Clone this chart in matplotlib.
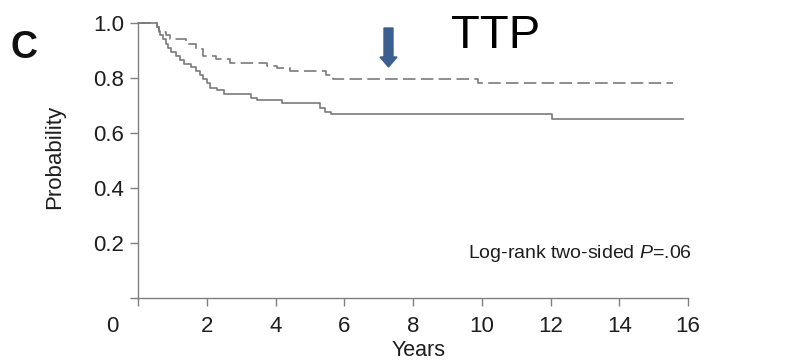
import matplotlib
matplotlib.use("Agg")
import matplotlib.pyplot as plt
from matplotlib.patches import FancyArrow
from matplotlib.transforms import ScaledTranslation

plt.rcParams['font.family'] = ['Liberation Sans', 'DejaVu Sans']
plt.rcParams['mathtext.fontset'] = 'custom'
plt.rcParams['mathtext.it'] = 'Liberation Sans:italic'
plt.rcParams['mathtext.rm'] = 'Liberation Sans'

# Kaplan-Meier steps (years, probability), solid arm
solid_t = [0, 0.55, 0.60, 0.65, 0.72, 0.80, 0.88, 0.97, 1.10, 1.22, 1.35, 1.55,
           1.70, 1.80, 1.90, 2.00, 2.10, 2.30, 2.50, 3.30, 3.45, 4.20, 5.30,
           5.45, 5.60, 12.05, 15.85]
solid_p = [1.0, 0.985, 0.97, 0.955, 0.94, 0.925, 0.91, 0.895, 0.88, 0.865, 0.85,
           0.84, 0.825, 0.81, 0.795, 0.78, 0.765, 0.755, 0.742, 0.728, 0.72,
           0.708, 0.69, 0.675, 0.668, 0.650, 0.650]

# dashed arm
dashed_t = [0, 0.55, 0.62, 0.80, 0.93, 1.40, 1.70, 1.90, 2.28, 2.67, 3.74, 4.03,
            4.41, 5.48, 5.68, 9.90, 15.55]
dashed_p = [1.0, 0.985, 0.968, 0.955, 0.94, 0.925, 0.905, 0.88, 0.868, 0.855,
            0.845, 0.835, 0.825, 0.81, 0.796, 0.782, 0.782]

x_ticks = [0, 2, 4, 6, 8, 10, 12, 14, 16]
y_ticks = [0, 0.2, 0.4, 0.6, 0.8, 1.0]
y_ticklabels = ['', '0.2', '0.4', '0.6', '0.8', '1.0']

line_color = '#7a7a7a'
axis_color = '#808080'
text_color = '#1e1e1e'

fig = plt.figure(figsize=(7.9, 3.61), dpi=100)
ax = fig.add_axes([0.1747, 0.1745, 0.6962, 0.7618])

ax.step(solid_t, solid_p, where='post', color=line_color, lw=1.2, clip_on=False)
ax.step(dashed_t, dashed_p, where='post', color=line_color, lw=1.2,
        dashes=(7.5, 3.2), clip_on=False)

ax.set_xlim(0, 16)
ax.set_ylim(0, 1.0)
ax.set_xticks(x_ticks)
ax.set_yticks(y_ticks)
ax.set_yticklabels(y_ticklabels)

for side in ('top', 'right'):
    ax.spines[side].set_visible(False)
for side in ('left', 'bottom'):
    ax.spines[side].set_color(axis_color)
    ax.spines[side].set_linewidth(1.0)

ax.tick_params(axis='both', direction='out', length=6, width=1.0,
               color=axis_color, labelsize=16, labelcolor=text_color)
ax.tick_params(axis='x', pad=7)
ax.tick_params(axis='y', pad=4)

# the "0" label sits left of its tick
zero_lbl = ax.get_xticklabels()[0]
zero_lbl.set_transform(zero_lbl.get_transform()
                       + ScaledTranslation(-0.255, 0, fig.dpi_scale_trans))

ax.set_xlabel('Years', fontsize=15.5, color=text_color)
ax.xaxis.set_label_coords(0.51, -0.152)
ax.set_ylabel('Probability', fontsize=16, color=text_color)
ax.yaxis.set_label_coords(-0.133, 0.513)

fig.text(692 / 790, (361 - 258) / 361, r'Log-rank two-sided $P$=.06',
         ha='right', va='baseline', fontsize=14, color=text_color)

fig.text(24.5 / 790, (361 - 48) / 361, 'C', ha='center', va='center',
         fontsize=27, fontweight='bold', color='#111111')

fig.text(496 / 790, (361 - 48) / 361, 'TTP', ha='center', va='baseline',
         fontsize=34, color='black')

arrow = FancyArrow(3.885, 3.33, 0, -0.39, width=0.09, head_width=0.17,
                   head_length=0.10, length_includes_head=True,
                   color='#3b5f8e', transform=fig.dpi_scale_trans)
fig.patches.append(arrow)

fig.savefig('out.png', dpi=100)
